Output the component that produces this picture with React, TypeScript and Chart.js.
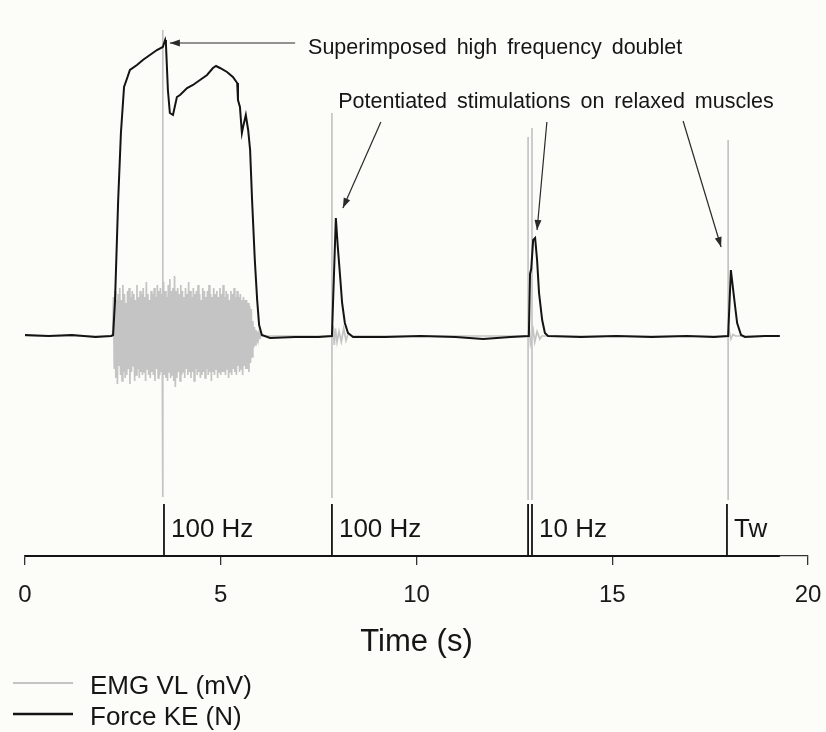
import React, { useEffect, useRef } from 'react';
import { Chart, registerables } from 'chart.js';

Chart.register(...registerables);

const FONT = '"Liberation Sans", Arial, Helvetica, sans-serif';

// ---------------- Force KE (N) ----------------
const forceTime = [
  0, 0.6, 1.2, 1.8, 2.2, 2.25, 2.30, 2.38, 2.45, 2.53, 2.61, 2.68, 2.86, 3.01, 3.19, 3.37, 3.52,
  3.58, 3.60, 3.65, 3.70, 3.78, 3.88, 3.96, 4.14, 4.29, 4.47, 4.65, 4.80, 4.88, 4.98, 5.16,
  5.31, 5.42, 5.44, 5.49, 5.54, 5.57, 5.64, 5.70, 5.75, 5.80, 5.87, 5.93, 5.98, 6.05, 6.26,
  6.9, 7.5, 7.84, 7.94, 7.99, 8.05, 8.10, 8.17, 8.25, 8.38, 9.2, 10.1, 11.0, 11.7, 12.4,
  12.87, 12.90, 12.93, 12.98, 13.03, 13.08, 13.13, 13.21, 13.28, 13.36, 14.2, 15.1, 16.0,
  16.9, 17.6, 17.96, 18.03, 18.08, 18.14, 18.19, 18.29, 18.39, 18.9, 19.28,
];
const forceValue = [
  2, 0, 2, -2, 0, 2, 72, 272, 406, 498, 516, 532, 542, 552, 562, 572, 578,
  592, 584, 492, 446, 442, 478, 482, 496, 502, 512, 522, 536, 540, 536, 528,
  518, 506, 472, 458, 406, 418, 442, 412, 372, 272, 152, 72, 22, 2, -4,
  -2, -2, 0, 236, 178, 118, 66, 26, 6, -2, -2, 0, -2, -6, -2,
  0, 124, 134, 192, 196, 152, 86, 32, 6, 0, -2, 0, -2,
  0, -2, 0, 132, 98, 58, 26, 2, -2, 0, 0,
];

// ---------------- EMG VL (mV) ----------------
const emgBaseTime = [0, 2.24, 6.1, 8.35, 13.2, 18.15, 19.28];
const emgBaseValue = [0, 0, 0, 0, 0, 0, 0];
const emgBurstStart = 2.26; // s
const emgBurstStep = 0.02; // s between samples
const emgBurstValue = [
  1.3, -1.1, 1.5, -1.4, 1.2, -1.6, 1.4, -1.0, 1.6, -1.3,
  1.2, -1.5, 1.7, -1.2, 1.4, -1.4, 1.1, -1.3, 1.5, -1.1,
  1.6, -1.6, 1.3, -1.2, 1.5, -1.0, 1.4, -1.5, 1.2, -1.3,
  1.7, -1.1, 1.3, -1.4, 1.5, -1.2, 1.4, -1.3, 1.6, -1.2,
  1.3, -1.5, 1.8, -1.1, 1.4, -1.3, 1.2, -1.4, 1.5, -1.2,
  1.4, -1.3, 1.6, -1.5, 1.3, -1.1, 1.7, -1.4, 1.5, -1.3,
  1.6, -1.2, 1.4, -1.6, 1.8, -1.3, 1.5, -1.4, 1.3, -1.5,
  1.7, -1.2, 1.9, -1.4, 1.5, -1.3, 1.6, -1.5, 2.0, -1.7,
  1.5, -1.4, 1.6, -1.2, 1.4, -1.5, 1.7, -1.3, 1.5, -1.2,
  1.3, -1.4, 1.6, -1.1, 1.4, -1.3, 1.8, -1.2, 1.5, -1.4,
  1.3, -1.2, 1.6, -1.5, 1.4, -1.1, 1.5, -1.3, 1.7, -1.2,
  1.4, -1.4, 1.2, -1.3, 1.6, -1.2, 1.5, -1.4, 1.3, -1.1,
  1.5, -1.3, 1.7, -1.2, 1.4, -1.5, 1.3, -1.2, 1.6, -1.3,
  1.4, -1.1, 1.5, -1.4, 1.3, -1.2, 1.6, -1.3, 1.4, -1.2,
  1.7, -1.2, 1.3, -1.3, 1.5, -1.1, 1.4, -1.4, 1.2, -1.2,
  1.5, -1.3, 1.4, -1.1, 1.6, -1.2, 1.3, -1.3, 1.5, -1.0,
  1.3, -1.2, 1.4, -1.1, 1.2, -1.3, 1.3, -1.0, 1.2, -1.1,
  1.2, -1.1, 1.1, -1.2, 1.0, -0.9, 0.9, -0.7, 0.5, -0.4,
  0.3, -0.3, 0.2, -0.25, 0.15, -0.1, 0.1, -0.1, 0.05, 0,
];
const emgMwaveTime = [7.87, 7.9, 7.93, 7.97, 8.02, 8.08, 8.14, 8.2, 8.26, 12.88, 12.91, 12.98, 13.02, 13.08, 13.15, 17.99, 18.03, 18.08];
const emgMwaveValue = [0.35, -0.3, 0.25, -0.2, 0.15, -0.2, 0.25, -0.15, 0.1, 0.3, -0.25, 0.2, -0.2, 0.15, -0.1, 0.15, -0.1, 0.05];
const emgArtifactTime = [3.52, 7.84, 12.85, 12.95, 17.96];
const emgArtifactTop = [10.2, 7.43, 6.63, 6.93, 6.53];
const emgArtifactBottom = [-5.37, -5.4, -5.47, -5.47, -5.47];

// ---------------- Stimulation channel ----------------
const stimTime = [3.55, 7.84, 12.85, 12.95, 17.93];
const stimEnd = 19.28;
const stimLabelTime = [3.55, 7.84, 12.95, 17.93];
const stimLabelText = ['100 Hz', '100 Hz', '10 Hz', 'Tw'];

// ---------------- Axis ----------------
const xMin = 0;
const xMax = 20;
const xStep = 5;

// ---------------- Annotations (time s, force N) ----------------
const noteText = ['Superimposed high frequency doublet', 'Potentiated stimulations on relaxed muscles'];
const noteAt = [
  [7.23, 575],
  [8.0, 468],
];
const arrowFrom = [
  [6.9, 586],
  [9.09, 428],
  [13.33, 428],
  [16.81, 430],
];
const arrowTo = [
  [3.7, 586],
  [8.12, 256],
  [13.08, 212],
  [17.78, 178],
];

type P = { x: number; y: number };

function buildForce(): P[] {
  return forceTime.map((t, i) => ({ x: t, y: forceValue[i] }));
}

function buildEmg(): P[] {
  const pts: P[] = [];
  emgBaseTime.forEach((t, i) => pts.push({ x: t, y: emgBaseValue[i] }));
  emgBurstValue.forEach((v, i) => pts.push({ x: emgBurstStart + i * emgBurstStep, y: v }));
  emgMwaveTime.forEach((t, i) => pts.push({ x: t, y: emgMwaveValue[i] }));
  emgArtifactTime.forEach((t, i) => {
    pts.push({ x: t, y: 0 });
    pts.push({ x: t, y: emgArtifactTop[i] });
    pts.push({ x: t, y: emgArtifactBottom[i] });
    pts.push({ x: t, y: 0 });
  });
  return pts
    .map((p, i) => ({ p, i }))
    .sort((a, b) => a.p.x - b.p.x || a.i - b.i)
    .map((o) => o.p);
}

function buildStim(): P[] {
  const pts: P[] = [{ x: xMin, y: 0 }];
  stimTime.forEach((t) => {
    pts.push({ x: t, y: 0 });
    pts.push({ x: t, y: 1 });
    pts.push({ x: t, y: 0 });
  });
  pts.push({ x: stimEnd, y: 0 });
  return pts;
}

function drawArrow(ctx: CanvasRenderingContext2D, x1: number, y1: number, x2: number, y2: number) {
  ctx.beginPath();
  ctx.moveTo(x1, y1);
  ctx.lineTo(x2, y2);
  ctx.stroke();
  const a = Math.atan2(y2 - y1, x2 - x1);
  const L = 10;
  const W = 3.5;
  ctx.beginPath();
  ctx.moveTo(x2, y2);
  ctx.lineTo(x2 - L * Math.cos(a) + W * Math.sin(a), y2 - L * Math.sin(a) - W * Math.cos(a));
  ctx.lineTo(x2 - L * Math.cos(a) - W * Math.sin(a), y2 - L * Math.sin(a) + W * Math.cos(a));
  ctx.closePath();
  ctx.fill();
}

const annotatePlugin = {
  id: 'annotate',
  beforeDraw(chart: any) {
    const ctx = chart.ctx as CanvasRenderingContext2D;
    ctx.save();
    ctx.fillStyle = '#fcfcf8';
    ctx.fillRect(0, 0, chart.width, chart.height);
    ctx.restore();
  },
  afterDraw(chart: any) {
    const ctx = chart.ctx as CanvasRenderingContext2D;
    const x = chart.scales.x;
    const yF = chart.scales.yF;
    const yS = chart.scales.yS;
    ctx.save();
    // stimulation labels
    ctx.font = `26px ${FONT}`;
    ctx.fillStyle = '#161616';
    ctx.textAlign = 'left';
    ctx.textBaseline = 'middle';
    stimLabelTime.forEach((t, i) => {
      ctx.fillText(stimLabelText[i], x.getPixelForValue(t) + 7, yS.getPixelForValue(0.5));
    });
    // notes
    ctx.font = `21.5px ${FONT}`;
    try {
      (ctx as any).wordSpacing = '4px';
    } catch (e) {
      /* ignore */
    }
    noteText.forEach((txt, i) => {
      ctx.fillText(txt, x.getPixelForValue(noteAt[i][0]), yF.getPixelForValue(noteAt[i][1]));
    });
    try {
      (ctx as any).wordSpacing = '0px';
    } catch (e) {
      /* ignore */
    }
    // arrows
    ctx.strokeStyle = '#2a2a2a';
    ctx.fillStyle = '#2a2a2a';
    ctx.lineWidth = 1.2;
    arrowFrom.forEach((f, i) => {
      drawArrow(
        ctx,
        x.getPixelForValue(f[0]),
        yF.getPixelForValue(f[1]),
        x.getPixelForValue(arrowTo[i][0]),
        yF.getPixelForValue(arrowTo[i][1])
      );
    });
    // legend (EMG first, then Force)
    const items = [chart.data.datasets[1], chart.data.datasets[0]];
    const H = chart.height;
    const rows = [H - 47, H - 16];
    ctx.font = `26px ${FONT}`;
    ctx.fillStyle = '#161616';
    items.forEach((ds: any, i: number) => {
      ctx.strokeStyle = ds.borderColor;
      ctx.lineWidth = i === 0 ? 2 : 2.5;
      ctx.beginPath();
      ctx.moveTo(13, rows[i] - 2);
      ctx.lineTo(73, rows[i] - 2);
      ctx.stroke();
      ctx.fillText(ds.label, 90, rows[i] + 2);
    });
    ctx.restore();
  },
};

export default function App() {
  const ref = useRef<HTMLCanvasElement | null>(null);
  useEffect(() => {
    if (!ref.current) return;
    const chart = new Chart(ref.current, {
      type: 'line',
      data: {
        datasets: [
          {
            label: 'Force KE (N)',
            data: buildForce(),
            yAxisID: 'yF',
            borderColor: '#141414',
            backgroundColor: '#141414',
            borderWidth: 2,
            pointRadius: 0,
            tension: 0,
            clip: false,
          } as any,
          {
            label: 'EMG VL (mV)',
            data: buildEmg(),
            yAxisID: 'yE',
            borderColor: '#c4c4c4',
            backgroundColor: '#c4c4c4',
            borderWidth: 1.7,
            pointRadius: 0,
            tension: 0,
            clip: false,
          } as any,
          {
            label: 'Stimulation',
            data: buildStim(),
            yAxisID: 'yS',
            borderColor: '#141414',
            backgroundColor: '#141414',
            borderWidth: 1.8,
            pointRadius: 0,
            tension: 0,
            clip: false,
          } as any,
        ],
      },
      options: {
        animation: false,
        responsive: true,
        maintainAspectRatio: false,
        events: [],
        layout: { padding: { left: 25, right: 18, top: 0, bottom: 66 } },
        plugins: { legend: { display: false }, tooltip: { enabled: false } },
        scales: {
          x: {
            type: 'linear',
            min: xMin,
            max: xMax,
            ticks: {
              stepSize: xStep,
              padding: 16,
              color: '#1a1a1a',
              font: { size: 24, family: FONT },
              maxRotation: 0,
            },
            grid: { display: true, drawOnChartArea: false, drawTicks: true, tickLength: 9, color: '#333', lineWidth: 1.3 },
            border: { display: true, color: '#333', width: 1.3 },
            title: {
              display: true,
              text: 'Time (s)',
              color: '#161616',
              font: { size: 31, family: FONT },
              padding: { top: 0, bottom: 5 },
            },
            afterFit: (scale: any) => {
              scale.height = 110;
              scale.paddingLeft = 0;
              scale.paddingRight = 0;
            },
          },
          yF: { display: false, min: -440, max: 672 },
          yE: { display: false, min: -7.333, max: 11.2 },
          yS: { display: false, min: 0, max: 10.692 },
        },
      } as any,
      plugins: [annotatePlugin],
    });
    return () => chart.destroy();
  }, []);
  return (
    <div style={{ position: 'absolute', left: 0, top: 0, width: 826, height: 732, background: '#fcfcf8' }}>
      <canvas ref={ref} />
    </div>
  );
}
